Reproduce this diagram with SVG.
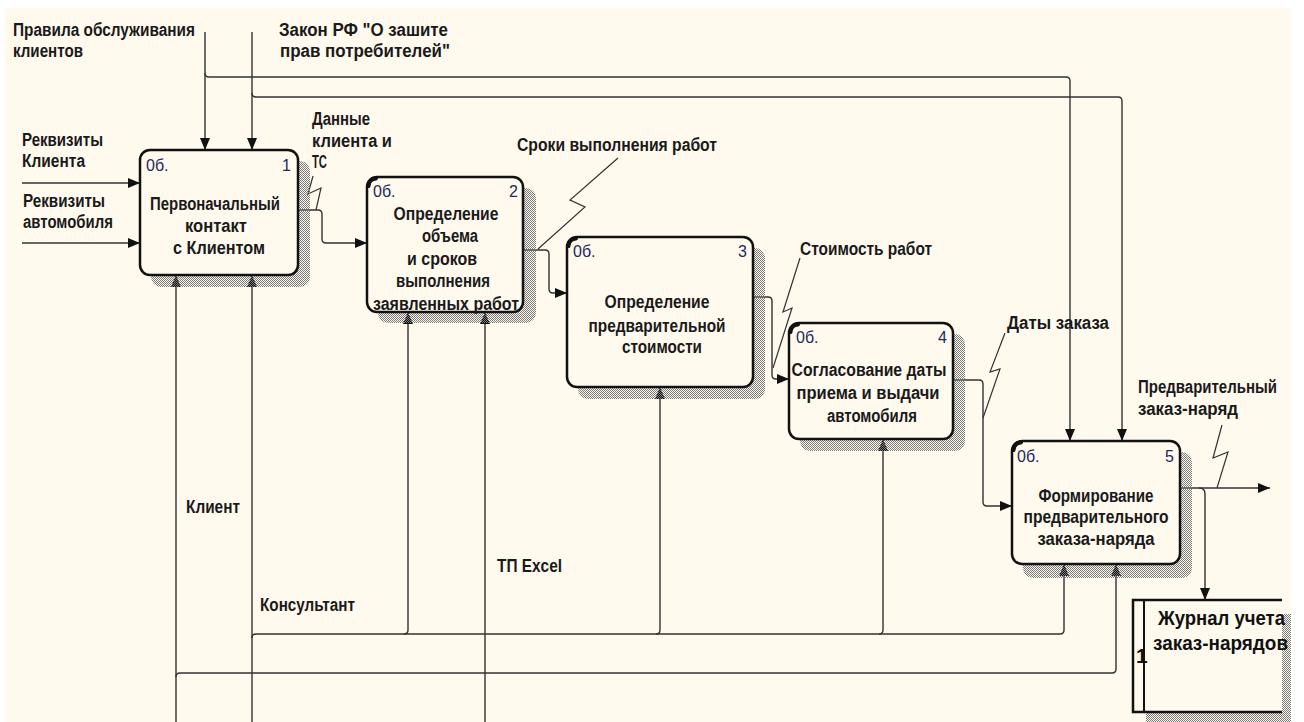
<svg xmlns="http://www.w3.org/2000/svg" width="1304" height="722" viewBox="0 0 1304 722">
  <defs>
    <style>
      .bg { fill: #fff9ee; }
      .lbl { font-family: "Liberation Sans Narrow", "Liberation Sans", Arial, sans-serif; font-weight: bold; font-size: 18px; fill: #1a1a1a; }
      .num { font-family: "Liberation Sans Narrow", "Liberation Sans", Arial, sans-serif; font-size: 16px; fill: #22285e; }
      .jr { font-family: "Liberation Sans Narrow", "Liberation Sans", Arial, sans-serif; font-weight: bold; font-size: 21px; fill: #111; }
      .box { fill: #fff9ee; stroke: #111; stroke-width: 2.5; }
      .shadow { fill: url(#hatch); }
      .tick { fill: none; stroke: #111; stroke-width: 4; stroke-linecap: round; }
      .arc { fill: none; stroke: #333; stroke-width: 1.4; }
      .sq { fill: none; stroke: #333; stroke-width: 1.2; }
    </style>
    <pattern id="hatch" width="2" height="2" patternUnits="userSpaceOnUse">
      <rect width="1" height="1" fill="#7a7a7a"/>
      <rect x="1" y="1" width="1" height="1" fill="#7a7a7a"/>
    </pattern>
    <marker id="ah" viewBox="0 0 12 10" refX="12" refY="5" markerWidth="12" markerHeight="10" markerUnits="userSpaceOnUse" orient="auto">
      <path d="M0,0 L12,5 L0,10 z" fill="#111"/>
    </marker>
  </defs>

  <!-- sheet -->
  <rect class="bg" x="5" y="8" width="1286" height="714"/>

  <!-- connectors -->
  <g id="connectors">
    <!-- controls -->
    <path class="arc" d="M205,32 V150" marker-end="url(#ah)"/>
    <path class="arc" d="M205,73 Q205,77 209,77 H1066 Q1070,77 1070,81 V441" marker-end="url(#ah)"/>
    <path class="arc" d="M252,32 V150" marker-end="url(#ah)"/>
    <path class="arc" d="M252,93 Q252,97 256,97 H1118 Q1122,97 1122,101 V441" marker-end="url(#ah)"/>
    <!-- inputs -->
    <path class="arc" d="M22,183 H140" marker-end="url(#ah)"/>
    <path class="arc" d="M22,243 H140" marker-end="url(#ah)"/>
    <!-- box to box -->
    <path class="arc" d="M298,210 H318 Q322,210 322,214 V239 Q322,243 326,243 H367" marker-end="url(#ah)"/>
    <path class="arc" d="M523,250 H545 Q549,250 549,254 V289 Q549,293 553,293 H567" marker-end="url(#ah)"/>
    <path class="arc" d="M753,297 H768 Q772,297 772,301 V375 Q772,379 776,379 H789" marker-end="url(#ah)"/>
    <path class="arc" d="M953,380 H979 Q983,380 983,384 V502 Q983,506 987,506 H1012" marker-end="url(#ah)"/>
    <!-- outputs -->
    <path class="arc" d="M1180,488 H1270" marker-end="url(#ah)"/>
    <path class="arc" d="M1199,488 Q1205,488 1205,494 V600" marker-end="url(#ah)"/>
    <!-- mechanisms -->
    <path class="arc" d="M176,722 V275" marker-end="url(#ah)"/>
    <path class="arc" d="M176,677 Q176,673 180,673 H1112 Q1116,673 1116,669 V564" marker-end="url(#ah)"/>
    <path class="arc" d="M252,722 V275" marker-end="url(#ah)"/>
    <path class="arc" d="M252,638 Q252,634 256,634 H1060 Q1064,634 1064,630 V564" marker-end="url(#ah)"/>
    <path class="arc" d="M404,634 Q408,634 408,630 V312" marker-end="url(#ah)"/>
    <path class="arc" d="M656,634 Q660,634 660,630 V387" marker-end="url(#ah)"/>
    <path class="arc" d="M879,634 Q883,634 883,630 V439" marker-end="url(#ah)"/>
    <path class="arc" d="M485,722 V312" marker-end="url(#ah)"/>
    <!-- label leaders -->
    <path class="sq" d="M313,176 L308,194 L321,188 L316,210"/>
    <path class="sq" d="M618,158 L570,200 L585,207 L538,249"/>
    <path class="sq" d="M800,258 L783,312 L792,308 L773,368"/>
    <path class="sq" d="M1005,333 L990,372 L1000,369 L983,418"/>
    <path class="sq" d="M1222,425 L1213,458 L1228,452 L1217,488"/>
  </g>

  <!-- connector labels -->
  <g id="labels">
    <text class="lbl" x="13" y="36" textLength="182" lengthAdjust="spacingAndGlyphs">Правила обслуживания</text>
    <text class="lbl" x="13" y="57" textLength="70" lengthAdjust="spacingAndGlyphs">клиентов</text>
    <text class="lbl" x="279" y="36" textLength="169" lengthAdjust="spacingAndGlyphs">Закон РФ "О зашите</text>
    <text class="lbl" x="280" y="57" textLength="170" lengthAdjust="spacingAndGlyphs">прав потребителей"</text>
    <text class="lbl" x="312" y="125" textLength="58" lengthAdjust="spacingAndGlyphs">Данные</text>
    <text class="lbl" x="312" y="147" textLength="80" lengthAdjust="spacingAndGlyphs">клиента и</text>
    <text class="lbl" x="312" y="168" textLength="15" lengthAdjust="spacingAndGlyphs">ТС</text>
    <text class="lbl" x="22" y="146" textLength="81" lengthAdjust="spacingAndGlyphs">Реквизиты</text>
    <text class="lbl" x="22" y="167" textLength="63" lengthAdjust="spacingAndGlyphs">Клиента</text>
    <text class="lbl" x="23" y="207" textLength="82" lengthAdjust="spacingAndGlyphs">Реквизиты</text>
    <text class="lbl" x="23" y="228" textLength="90" lengthAdjust="spacingAndGlyphs">автомобиля</text>
    <text class="lbl" x="517" y="151" textLength="200" lengthAdjust="spacingAndGlyphs">Сроки выполнения работ</text>
    <text class="lbl" x="800" y="255" textLength="132" lengthAdjust="spacingAndGlyphs">Стоимость работ</text>
    <text class="lbl" x="1007" y="329" textLength="102" lengthAdjust="spacingAndGlyphs">Даты заказа</text>
    <text class="lbl" x="1138" y="393" textLength="139" lengthAdjust="spacingAndGlyphs">Предварительный</text>
    <text class="lbl" x="1138" y="415" textLength="100" lengthAdjust="spacingAndGlyphs">заказ-наряд</text>
    <text class="lbl" x="186" y="513" textLength="54" lengthAdjust="spacingAndGlyphs">Клиент</text>
    <text class="lbl" x="260" y="611" textLength="95" lengthAdjust="spacingAndGlyphs">Консультант</text>
    <text class="lbl" x="497" y="572" textLength="65" lengthAdjust="spacingAndGlyphs">ТП Excel</text>
  </g>

  <!-- activity 1 -->
  <g id="node1">
    <rect class="shadow" x="151" y="161" width="159" height="126" rx="10"/>
    <rect class="box" x="140" y="150" width="158" height="125" rx="10"/>
    <text class="num" x="146" y="171">0б.</text>
    <text class="num" x="291" y="171" text-anchor="end">1</text>
    <text class="lbl" x="215" y="210" text-anchor="middle" textLength="130" lengthAdjust="spacingAndGlyphs">Первоначальный</text>
    <text class="lbl" x="216" y="232" text-anchor="middle" textLength="62" lengthAdjust="spacingAndGlyphs">контакт</text>
    <text class="lbl" x="219" y="254" text-anchor="middle" textLength="92" lengthAdjust="spacingAndGlyphs">с Клиентом</text>
  </g>

  <!-- activity 2 -->
  <g id="node2">
    <rect class="shadow" x="378" y="188" width="158" height="135" rx="10"/>
    <rect class="box" x="367" y="177" width="156" height="135" rx="10"/>
    <path class="tick" d="M368.5,186 Q369,179 376,178.5"/>
    <text class="num" x="373" y="197">0б.</text>
    <text class="num" x="518" y="197" text-anchor="end">2</text>
    <text class="lbl" x="446" y="220" text-anchor="middle" textLength="105" lengthAdjust="spacingAndGlyphs">Определение</text>
    <text class="lbl" x="450" y="242" text-anchor="middle" textLength="56" lengthAdjust="spacingAndGlyphs">объема</text>
    <text class="lbl" x="442" y="265" text-anchor="middle" textLength="70" lengthAdjust="spacingAndGlyphs">и сроков</text>
    <text class="lbl" x="443" y="287" text-anchor="middle" textLength="94" lengthAdjust="spacingAndGlyphs">выполнения</text>
    <text class="lbl" x="446" y="310" text-anchor="middle" textLength="146" lengthAdjust="spacingAndGlyphs">заявленных работ</text>
  </g>

  <!-- activity 3 -->
  <g id="node3">
    <rect class="shadow" x="578" y="248" width="187" height="151" rx="10"/>
    <rect class="box" x="567" y="237" width="186" height="150" rx="10"/>
    <path class="tick" d="M568.5,246 Q569,239 576,238.5"/>
    <text class="num" x="573" y="257">0б.</text>
    <text class="num" x="747" y="257" text-anchor="end">3</text>
    <text class="lbl" x="657" y="308" text-anchor="middle" textLength="105" lengthAdjust="spacingAndGlyphs">Определение</text>
    <text class="lbl" x="657" y="332" text-anchor="middle" textLength="137" lengthAdjust="spacingAndGlyphs">предварительной</text>
    <text class="lbl" x="662" y="353" text-anchor="middle" textLength="80" lengthAdjust="spacingAndGlyphs">стоимости</text>
  </g>

  <!-- activity 4 -->
  <g id="node4">
    <rect class="shadow" x="800" y="334" width="165" height="117" rx="10"/>
    <rect class="box" x="789" y="323" width="164" height="116" rx="10"/>
    <path class="tick" d="M790.5,332 Q791,325 798,324.5"/>
    <text class="num" x="796" y="343">0б.</text>
    <text class="num" x="947" y="343" text-anchor="end">4</text>
    <text class="lbl" x="869" y="376" text-anchor="middle" textLength="155" lengthAdjust="spacingAndGlyphs">Согласование даты</text>
    <text class="lbl" x="868" y="399" text-anchor="middle" textLength="143" lengthAdjust="spacingAndGlyphs">приема и выдачи</text>
    <text class="lbl" x="872" y="422" text-anchor="middle" textLength="90" lengthAdjust="spacingAndGlyphs">автомобиля</text>
  </g>

  <!-- activity 5 -->
  <g id="node5">
    <rect class="shadow" x="1023" y="452" width="169" height="126" rx="10"/>
    <rect class="box" x="1012" y="441" width="168" height="123" rx="10"/>
    <path class="tick" d="M1013.5,450 Q1014,443 1021,442.5"/>
    <text class="num" x="1017" y="462">0б.</text>
    <text class="num" x="1174" y="462" text-anchor="end">5</text>
    <text class="lbl" x="1096" y="502" text-anchor="middle" textLength="115" lengthAdjust="spacingAndGlyphs">Формирование</text>
    <text class="lbl" x="1096" y="523" text-anchor="middle" textLength="145" lengthAdjust="spacingAndGlyphs">предварительного</text>
    <text class="lbl" x="1096" y="545" text-anchor="middle" textLength="117" lengthAdjust="spacingAndGlyphs">заказа-наряда</text>
  </g>

  <!-- data store -->
  <g id="store1">
    <rect class="shadow" x="1146" y="614" width="145" height="108"/>
    <rect x="1133" y="600" width="149" height="112" fill="#fff9ee"/>
    <path d="M1282,600 H1133 V712 H1282" fill="none" stroke="#111" stroke-width="2.5"/>
    <path d="M1144,600 V712" fill="none" stroke="#111" stroke-width="2"/>
    <text class="jr" x="1136" y="663" font-size="18">1</text>
    <text class="jr" x="1158" y="625" textLength="127" lengthAdjust="spacingAndGlyphs">Журнал учета</text>
    <text class="jr" x="1153" y="650" textLength="135" lengthAdjust="spacingAndGlyphs">заказ-нарядов</text>
  </g>
</svg>
